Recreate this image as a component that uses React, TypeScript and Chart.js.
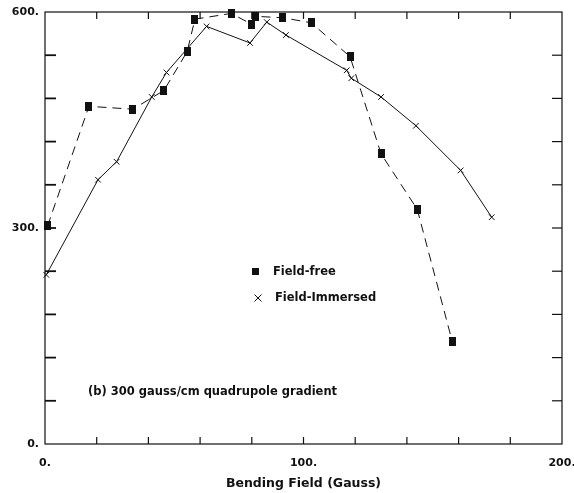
import React, { useEffect, useRef } from "react";
import { Chart, registerables } from "chart.js";

Chart.register(...registerables);

const freeX = [1, 17, 34, 46, 55, 58, 72, 80, 81.5, 92, 103, 118, 130, 144, 157.5];
const freeY = [303, 469, 465, 491, 545, 590, 598, 583, 594, 592, 585, 538, 403, 326, 143];

const immX = [0.5, 20.5, 27.7, 41.3, 47, 62.5, 79.3, 85.8, 93.2, 116.7, 118.5, 130, 143.5, 160.8, 172.8];
const immY = [235, 367, 392, 482, 516, 580, 557, 586, 568, 519, 508, 482, 442, 380, 315];

const xLabels = [0, 100, 200];
const yLabels = [0, 300, 600];

const FONT = "'DejaVu Sans', sans-serif";
const INK = "#111";

const framePlugin = {
  id: "frame",
  afterDraw(chart: any) {
    const { ctx, chartArea, scales } = chart;
    const { left, right, top, bottom } = chartArea;
    ctx.save();
    ctx.strokeStyle = INK;
    ctx.lineWidth = 1.2;
    ctx.strokeRect(left, top, right - left, bottom - top);
    ctx.lineWidth = 1.2;
    scales.x.ticks.forEach((t: any) => {
      const px = scales.x.getPixelForValue(t.value);
      if (px <= left + 1 || px >= right - 1) return;
      ctx.beginPath();
      ctx.moveTo(px, bottom);
      ctx.lineTo(px, bottom - 7);
      ctx.moveTo(px, top);
      ctx.lineTo(px, top + 7);
      ctx.stroke();
    });
    scales.y.ticks.forEach((t: any) => {
      const py = scales.y.getPixelForValue(t.value);
      if (py <= top + 1 || py >= bottom - 1) return;
      ctx.beginPath();
      ctx.lineWidth = 1.8;
      ctx.moveTo(left, py);
      ctx.lineTo(left + 11, py);
      ctx.stroke();
      ctx.beginPath();
      ctx.lineWidth = 1.2;
      ctx.moveTo(right, py);
      ctx.lineTo(right - 10, py);
      ctx.stroke();
    });
    // legend and annotation
    ctx.fillStyle = INK;
    ctx.font = `bold 11.5px ${FONT}`;
    ctx.textBaseline = "middle";
    ctx.textAlign = "left";
    ctx.fillRect(252, 268, 7, 7);
    ctx.fillText("Field-free", 273, 272);
    ctx.beginPath();
    ctx.lineWidth = 1;
    ctx.moveTo(254.5, 294.5);
    ctx.lineTo(261.5, 301.5);
    ctx.moveTo(261.5, 294.5);
    ctx.lineTo(254.5, 301.5);
    ctx.stroke();
    ctx.fillText("Field-Immersed", 275, 298);
    ctx.fillText("(b) 300 gauss/cm quadrupole gradient", 88, 392);
    ctx.restore();
  },
};

function makeRect(): HTMLCanvasElement {
  const c = document.createElement("canvas");
  c.width = 7;
  c.height = 9;
  const g = c.getContext("2d")!;
  g.fillStyle = INK;
  g.fillRect(0, 0, 7, 9);
  return c;
}

export default function App() {
  const ref = useRef<HTMLCanvasElement | null>(null);
  useEffect(() => {
    if (!ref.current) return;
    const rect = makeRect();
    const chart = new Chart(ref.current, {
      type: "scatter",
      data: {
        datasets: [
          {
            label: "Field-free",
            data: freeX.map((x, i) => ({ x, y: freeY[i] })),
            showLine: true,
            borderColor: INK,
            borderWidth: 1,
            borderDash: [9, 6],
            pointStyle: rect as any,
            pointRadius: 4,
            backgroundColor: INK,
            clip: false as any,
          },
          {
            label: "Field-Immersed",
            data: immX.map((x, i) => ({ x, y: immY[i] })),
            showLine: true,
            borderColor: INK,
            borderWidth: 1,
            pointStyle: "crossRot",
            pointRadius: 4,
            pointBorderWidth: 1,
            pointBorderColor: INK,
            clip: false as any,
          },
        ],
      },
      options: {
        animation: false,
        responsive: false,
        maintainAspectRatio: false,
        layout: { padding: { top: 12, right: 12, left: 0, bottom: 0 } },
        plugins: { legend: { display: false }, tooltip: { enabled: false } },
        scales: {
          x: {
            type: "linear",
            min: 0,
            max: 200,
            grid: { display: false, drawTicks: false },
            border: { display: false },
            ticks: {
              stepSize: 20,
              autoSkip: false,
              maxRotation: 0,
              padding: 13,
              color: INK,
              font: { family: FONT, size: 11, weight: "bold" },
              callback: (v: any) => (xLabels.includes(Number(v)) ? `${v}.` : ""),
            },
            title: {
              display: true,
              text: "Bending Field (Gauss)",
              color: INK,
              font: { family: FONT, size: 12.5, weight: "bold" },
              padding: { top: 0, bottom: 2 },
            },
            afterFit: (s: any) => {
              s.height = 49;
              s.paddingLeft = 0;
              s.paddingRight = 0;
            },
          },
          y: {
            type: "linear",
            min: 0,
            max: 600,
            grid: { display: false, drawTicks: false },
            border: { display: false },
            ticks: {
              stepSize: 60,
              autoSkip: false,
              padding: 6,
              color: INK,
              font: { family: FONT, size: 11, weight: "bold" },
              callback: (v: any) => (yLabels.includes(Number(v)) ? `${v}.` : ""),
            },
            afterFit: (s: any) => {
              s.width = 45;
              s.paddingTop = 0;
              s.paddingBottom = 0;
            },
          },
        },
      },
      plugins: [framePlugin],
    });
    return () => chart.destroy();
  }, []);
  return (
    <div style={{ position: "fixed", left: 0, top: 0, width: 574, height: 493, background: "#fff" }}>
      <canvas ref={ref} width={574} height={493} style={{ width: 574, height: 493 }} />
    </div>
  );
}
